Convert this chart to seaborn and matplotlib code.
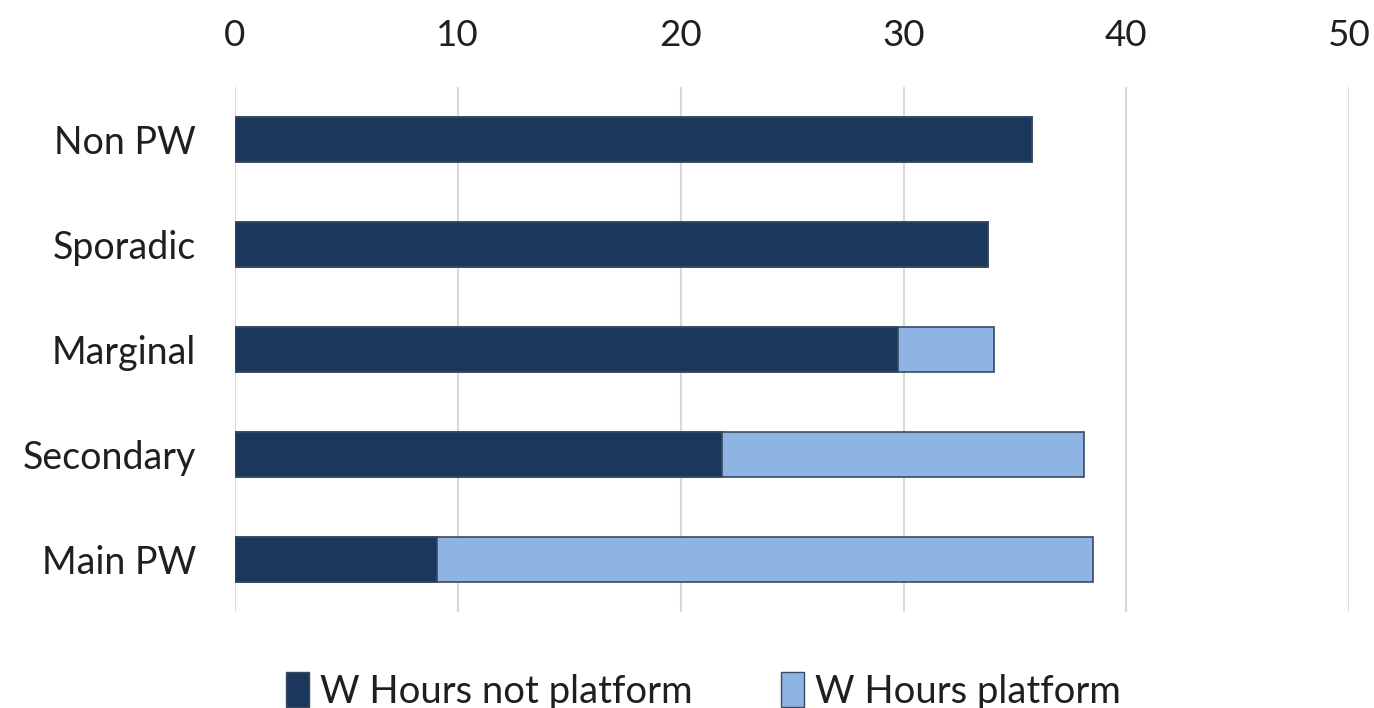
import matplotlib
matplotlib.use("Agg")
import matplotlib.pyplot as plt
from matplotlib.patches import Patch
import seaborn as sns
import pandas as pd

categories = ["Non PW", "Sporadic", "Marginal", "Secondary", "Main PW"]
hours_not_platform = [35.76, 33.77, 29.77, 21.85, 9.07]
hours_platform = [0.0, 0.0, 4.27, 16.26, 29.43]
x_ticks = [0, 10, 20, 30, 40, 50]

dark = "#1b375c"
light = "#8eb4e3"
edge = "#3a4a60"
text_color = "#1f1f1f"

df = pd.DataFrame({
    "category": categories,
    "not_platform": hours_not_platform,
    "platform": hours_platform,
})
df["total"] = df["not_platform"] + df["platform"]

sns.set_theme(style="white")
plt.rcParams["font.family"] = ["Lato", "DejaVu Sans"]

fig = plt.figure(figsize=(13.74, 7.08), dpi=100)
ax = fig.add_axes([0.171, 0.1356, 0.811, 0.7415])

# stacked bars: full total in light blue, non-platform share over it
sns.barplot(data=df, x="total", y="category", color=light, width=0.42,
            edgecolor=edge, linewidth=1.2, saturation=1, ax=ax, zorder=2)
sns.barplot(data=df, x="not_platform", y="category", color=dark, width=0.42,
            edgecolor=edge, linewidth=1.2, saturation=1, ax=ax, zorder=3)

ax.set_xlim(0, 50)
ax.set_xticks(x_ticks)
ax.xaxis.tick_top()
ax.tick_params(axis="x", length=0, labelsize=26.5, pad=25, colors=text_color)
ax.tick_params(axis="y", length=0, labelsize=27, pad=28, colors=text_color)
ax.set_xlabel("")
ax.set_ylabel("")
for s in ax.spines.values():
    s.set_visible(False)
ax.grid(axis="x", color="#d9d9d9", linewidth=1.5, zorder=0)
ax.set_axisbelow(True)

handles = [
    Patch(facecolor=dark, edgecolor=edge, label="W Hours not platform"),
    Patch(facecolor=light, edgecolor=edge, label="W Hours platform"),
]
fig.legend(handles=handles, loc="center", bbox_to_anchor=(0.512, 0.024),
           ncol=2, frameon=False, fontsize=27.5, handlelength=0.6,
           handleheight=1.0, handletextpad=0.3, columnspacing=2.3,
           labelcolor=text_color)

fig.savefig("out.png", dpi=100)
